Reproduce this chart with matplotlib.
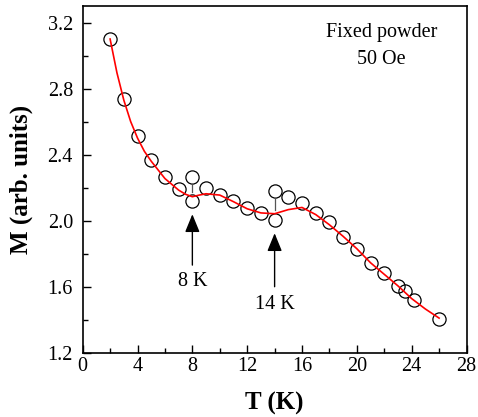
import matplotlib
matplotlib.use("Agg")
import matplotlib.pyplot as plt
from matplotlib.ticker import MultipleLocator

plt.rcParams['font.family'] = ['Liberation Serif', 'DejaVu Serif']
plt.rcParams['mathtext.fontset'] = 'stix'

# measured data (open circles)
T_data = [2, 3, 4, 5, 6, 7, 8, 8, 9, 10, 11, 12, 13, 14, 14, 15, 16, 17, 18, 19,
          20, 21, 22, 23, 23.5, 24.2, 26]
M_data = [3.101, 2.736, 2.512, 2.370, 2.265, 2.190, 2.267, 2.118, 2.200, 2.158,
          2.119, 2.079, 2.048, 2.182, 2.004, 2.145, 2.109, 2.048, 1.994, 1.899,
          1.827, 1.742, 1.685, 1.602, 1.572, 1.518, 1.404]

# smooth fit curve (red)
T_fit = [2, 2.5, 3, 3.5, 4, 4.5, 5, 6, 7, 7.5, 8, 8.5, 9, 10, 11, 12, 13, 14, 15,
         16, 17, 18, 19, 20, 21, 22, 23, 24, 25, 26]
M_fit = [3.10, 2.895, 2.73, 2.60, 2.50, 2.42, 2.36, 2.255, 2.185, 2.16, 2.145,
         2.155, 2.163, 2.155, 2.115, 2.072, 2.047, 2.042, 2.067, 2.080, 2.037,
         1.975, 1.905, 1.83, 1.745, 1.675, 1.605, 1.528, 1.465, 1.41]

x_ticks = [0, 4, 8, 12, 16, 20, 24, 28]
y_ticks = [1.2, 1.6, 2.0, 2.4, 2.8, 3.2]

fig = plt.figure(figsize=(4.78, 4.17), dpi=100)
ax = fig.add_axes([0.173, 0.154, 0.803, 0.8316])

ax.plot(T_data, M_data, linestyle='none', marker='o', markersize=9.5,
        markerfacecolor='none', markeredgecolor='black', markeredgewidth=0.9, zorder=2)
ax.plot(T_fit, M_fit, color='red', linewidth=1.2, zorder=3)

# small connectors between split points
ax.plot([8, 8], [2.216, 2.176], color='#555555', linewidth=0.9)
ax.plot([14, 14], [2.131, 2.065], color='#555555', linewidth=0.9)

# arrows
for tx, tip, tail, lab, ly in [(8, 2.039, 1.731, '8 K', 1.63),
                               (14, 1.924, 1.60, '14 K', 1.493)]:
    ax.annotate('', xy=(tx, tip), xytext=(tx, tail),
                arrowprops=dict(arrowstyle='-|>,head_length=1.1,head_width=0.45',
                                color='black', lw=1.0, shrinkA=0, shrinkB=0))
    ax.text(tx, ly, lab, ha='center', va='center', fontsize=14.5)

ax.text(21.8, 3.137, 'Fixed powder', ha='center', va='center', fontsize=14.5)
ax.text(21.8, 2.975, '50 Oe', ha='center', va='center', fontsize=14.5)

ax.set_xlim(0, 28)
ax.set_ylim(1.2, 3.3)
ax.set_xticks(x_ticks)
ax.set_yticks(y_ticks)
ax.set_xticklabels([str(v) for v in x_ticks])
ax.set_yticklabels([f'{v:.1f}' for v in y_ticks])
ax.xaxis.set_minor_locator(MultipleLocator(2))
ax.yaxis.set_minor_locator(MultipleLocator(0.2))
ax.tick_params(which='both', direction='in', top=False, right=False,
               labelsize=14.5, width=1.0)
ax.tick_params(axis='x', pad=3)
ax.tick_params(axis='y', pad=7)
ax.tick_params(which='major', length=6)
ax.tick_params(which='minor', length=3.5)
for s in ax.spines.values():
    s.set_linewidth(1.2)

ax.set_xlabel('T (K)', fontsize=18, fontweight='bold')
ax.set_ylabel('M (arb. units)', fontsize=18, fontweight='bold')
ax.xaxis.set_label_coords(0.5, -0.113)
ax.yaxis.set_label_coords(-0.13, 0.5)

fig.savefig('out.png', dpi=100)
